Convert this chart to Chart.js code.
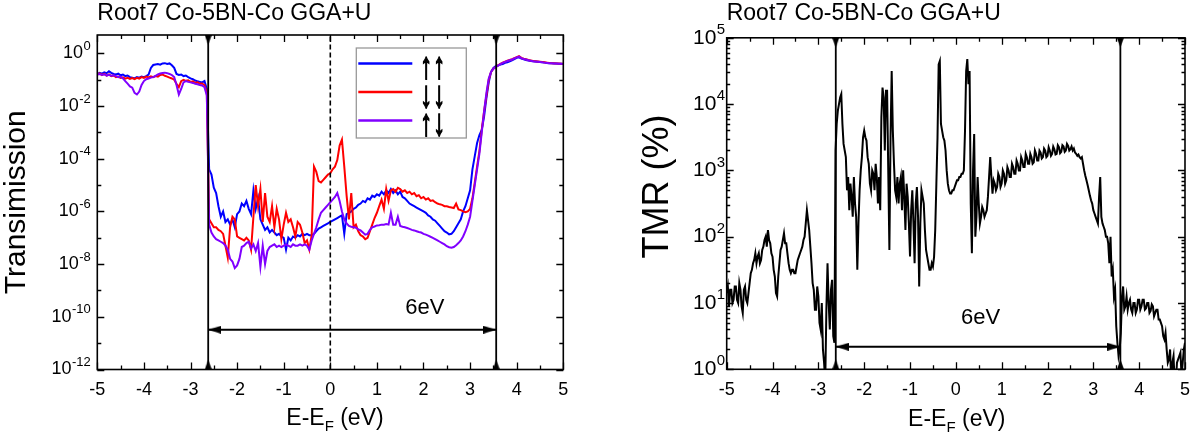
<!DOCTYPE html>
<html>
<head>
<meta charset="utf-8">
<script src="https://cdn.jsdelivr.net/npm/chart.js@4.4.1/dist/chart.umd.min.js"></script>
<style>
  body { margin: 0; background: #fff; width: 1200px; height: 440px; overflow: hidden; display: flex; }
  .panel { position: relative; width: 600px; height: 440px; }
</style>
</head>
<body>
<div class="panel"><canvas id="transChart"></canvas></div>
<div class="panel"><canvas id="tmrChart"></canvas></div>
<script>
// energy grids (eV); the series below hold log10 of the plotted quantity
const energy = [];
for (let i = 0; i <= 200; i++) energy.push(Math.round((-5 + i * 0.05) * 100) / 100);
const tmrEnergy = [];
for (let i = 0; i <= 400; i++) tmrEnergy.push(Math.round((-5 + i * 0.025) * 1000) / 1000);

// transmission, spin up - up (blue)
const upUpLog = [
  -0.78,-0.74,-0.77,-0.72,-0.75,-0.68,-0.74,-0.78,-0.80,-0.77,-0.83,-0.80,-0.86,-0.84,-0.90,-0.92,-0.95,-0.90,-0.92,-0.88,
  -0.90,-0.86,-0.80,-0.55,-0.44,-0.42,-0.40,-0.43,-0.38,-0.37,-0.40,-0.38,-0.45,-0.55,-0.78,-0.82,-0.80,-0.86,-0.84,-0.90,
  -0.95,-0.98,-1.03,-1.06,-1.08,-1.10,-1.05,-1.35,-4.4,-4.6,-5.1,-5.3,-5.8,-6.2,-6.0,-6.4,-6.3,-6.5,-6.3,-6.6,
  -6.1,-6.0,-5.7,-5.8,-5.6,-5.9,-6.1,-5.2,-5.9,-5.5,-6.3,-6.5,-6.7,-6.6,-6.8,-6.7,-6.8,-6.9,-6.85,-6.95,
  -7.0,-7.45,-7.0,-7.1,-6.95,-7.0,-6.9,-6.95,-6.85,-6.9,-6.85,-6.9,-6.9,-6.85,-6.75,-6.65,-6.6,-6.55,-6.5,-6.45,
  -6.4,-6.35,-6.3,-6.25,-6.2,-6.15,-6.85,-6.1,-6.05,-6.0,-5.9,-5.85,-5.75,-5.7,-5.6,-5.65,-5.5,-5.55,-5.4,-5.45,
  -5.35,-5.4,-5.25,-5.35,-5.2,-5.3,-5.15,-5.3,-5.2,-5.35,-5.25,-5.45,-5.5,-5.6,-5.7,-5.75,-5.8,-5.85,-5.9,-5.95,
  -6.0,-6.05,-6.15,-6.2,-6.3,-6.35,-6.45,-6.55,-6.65,-6.75,-6.8,-6.87,-6.85,-6.75,-6.6,-6.45,-6.3,-6.0,-5.8,-5.5,
  -5.2,-4.4,-3.9,-3.4,-3.1,-2.9,-2.4,-1.7,-1.1,-0.7,-0.55,-0.48,-0.46,-0.42,-0.40,-0.36,-0.34,-0.30,-0.26,-0.22,
  -0.17,-0.15,-0.20,-0.22,-0.25,-0.27,-0.29,-0.30,-0.31,-0.32,-0.33,-0.34,-0.35,-0.36,-0.37,-0.37,-0.38,-0.38,-0.39,-0.39,
  -0.40
];
// transmission, spin down - down (red)
const downDownLog = [
  -0.80,-0.76,-0.82,-0.78,-0.84,-0.80,-0.86,-0.84,-0.90,-0.88,-0.93,-0.91,-0.96,-0.93,-0.97,-0.94,-0.98,-0.93,-0.96,-0.90,
  -0.93,-0.88,-0.91,-0.87,-0.90,-0.86,-0.88,-0.82,-0.80,-0.85,-0.88,-0.92,-0.95,-1.00,-1.15,-1.28,-1.05,-1.00,-1.04,-1.02,
  -1.08,-1.06,-1.12,-1.10,-1.15,-1.14,-1.20,-1.50,-6.3,-6.45,-6.6,-6.6,-6.7,-6.75,-6.85,-7.3,-7.75,-6.6,-6.2,-6.3,
  -6.95,-7.0,-7.05,-7.1,-7.0,-7.1,-7.45,-6.2,-5.0,-5.8,-5.15,-6.4,-5.3,-6.2,-6.4,-5.8,-6.6,-5.9,-6.3,-7.05,
  -6.5,-6.05,-6.4,-6.3,-6.6,-6.95,-6.4,-6.5,-6.8,-7.2,-7.1,-7.45,-6.9,-4.3,-4.5,-4.85,-4.9,-4.8,-4.7,-4.6,
  -4.55,-4.4,-4.3,-4.05,-3.5,-3.27,-4.3,-5.4,-6.3,-5.3,-6.6,-6.5,-6.75,-6.9,-6.95,-7.05,-7.0,-6.75,-6.5,-6.25,
  -6.05,-5.8,-5.55,-5.9,-5.15,-5.6,-5.2,-5.15,-5.25,-5.1,-5.15,-5.25,-5.2,-5.3,-5.25,-5.35,-5.3,-5.42,-5.38,-5.5,
  -5.45,-5.55,-5.5,-5.6,-5.58,-5.65,-5.7,-5.73,-5.75,-5.8,-5.8,-5.83,-5.85,-5.87,-5.7,-5.92,-5.95,-6.0,-6.03,-6.0,
  -5.9,-5.5,-4.9,-4.3,-3.7,-2.9,-2.2,-1.6,-1.0,-0.7,-0.58,-0.52,-0.45,-0.40,-0.35,-0.31,-0.28,-0.25,-0.22,-0.18,
  -0.14,-0.10,-0.17,-0.20,-0.22,-0.25,-0.27,-0.29,-0.30,-0.31,-0.32,-0.33,-0.34,-0.35,-0.36,-0.37,-0.37,-0.38,-0.38,-0.39,
  -0.39
];
// transmission, spin up - down (purple)
const upDownLog = [
  -0.80,-0.78,-0.82,-0.79,-0.84,-0.81,-0.85,-0.83,-0.86,-0.90,-0.88,-0.95,-1.05,-1.15,-1.25,-1.30,-1.50,-1.56,-1.45,-1.20,
  -1.05,-0.98,-0.95,-0.92,-0.90,-0.85,-0.80,-0.76,-0.74,-0.73,-0.75,-0.78,-0.82,-0.90,-1.20,-1.56,-1.35,-1.10,-1.05,-1.08,
  -1.10,-1.12,-1.15,-1.17,-1.20,-1.22,-1.28,-1.60,-6.5,-6.8,-6.95,-7.05,-7.1,-7.15,-7.2,-7.3,-7.45,-7.8,-7.9,-8.15,
  -8.05,-7.8,-7.35,-7.3,-7.2,-7.15,-7.4,-7.25,-7.5,-7.2,-8.1,-7.3,-8.0,-7.5,-7.35,-7.3,-7.25,-7.35,-7.3,-7.35,
  -7.3,-7.25,-7.3,-7.35,-7.25,-7.3,-7.3,-7.25,-7.3,-7.25,-7.3,-7.45,-7.1,-6.85,-6.6,-6.3,-6.05,-5.95,-5.85,-5.75,
  -5.65,-5.55,-5.45,-5.3,-5.6,-6.0,-6.3,-6.45,-6.55,-6.58,-6.6,-6.62,-6.68,-6.72,-6.8,-6.88,-6.85,-6.7,-6.6,-6.57,
  -6.53,-6.52,-6.5,-6.5,-6.48,-6.5,-6.05,-6.5,-6.5,-6.2,-6.55,-6.58,-6.6,-6.63,-6.66,-6.7,-6.72,-6.75,-6.78,-6.8,
  -6.85,-6.88,-6.92,-6.96,-7.0,-7.05,-7.1,-7.15,-7.2,-7.25,-7.32,-7.36,-7.38,-7.35,-7.28,-7.2,-7.1,-6.95,-6.75,-6.5,
  -6.2,-5.6,-5.0,-4.4,-3.8,-3.0,-2.2,-1.5,-0.95,-0.7,-0.58,-0.52,-0.46,-0.41,-0.36,-0.32,-0.29,-0.26,-0.23,-0.19,
  -0.15,-0.12,-0.18,-0.21,-0.23,-0.26,-0.28,-0.30,-0.31,-0.32,-0.33,-0.34,-0.35,-0.36,-0.37,-0.37,-0.38,-0.38,-0.39,-0.39,
  -0.40
];
// TMR (%), black, on the 0.025 eV grid
const tmrLog = [
  1.15,1.25,0.95,1.2,1.2,1.0,1.05,1.25,1.25,1.05,1.0,1.3,1.2,0.95,0.85,1.2,1.25,1.05,1.0,1.15,
  1.3,1.45,1.5,1.6,1.65,1.75,1.6,1.7,1.75,1.6,1.65,1.8,1.85,1.95,2.0,1.85,2.1,1.95,1.9,1.75,
  1.7,1.5,1.4,1.15,1.1,1.4,1.6,1.8,1.85,1.95,2.05,1.9,1.9,1.75,1.6,1.5,1.45,1.5,1.5,1.45,
  1.45,1.55,1.65,1.7,1.75,1.8,1.85,1.95,2.0,2.2,2.4,2.25,2.1,1.85,1.6,1.3,1.2,0.9,0.9,1.25,
  1.1,0.7,0.6,1.0,0.3,0.1,-0.2,0.9,1.6,1.0,0.6,1.2,1.35,0.5,0.4,3.3,3.7,3.9,4.0,4.1,
  4.15,3.7,3.4,3.3,3.2,2.7,2.9,2.4,2.8,2.6,2.3,2.9,2.5,2.3,1.5,2.2,2.7,3.0,3.2,3.5,
  3.6,3.5,3.45,3.2,3.1,2.8,2.7,3.0,2.95,2.7,3.1,2.9,2.5,2.9,2.4,3.8,4.25,4.1,3.3,4.2,
  4.2,3.0,1.8,3.5,4.5,3.6,3.1,2.7,2.6,2.9,2.5,2.8,2.9,2.4,3.0,2.6,2.1,2.8,2.6,2.2,
  1.7,2.4,2.7,2.2,1.6,2.5,2.75,2.3,1.25,2.2,2.7,2.6,2.5,2.1,1.8,1.7,1.6,1.5,1.5,1.6,
  1.55,1.7,2.1,2.8,3.5,4.6,4.65,3.7,3.6,3.5,3.45,3.3,3.0,2.8,2.7,2.65,2.65,2.7,2.7,2.75,
  2.8,2.85,2.85,2.9,2.9,2.95,2.95,3.0,3.6,4.5,4.68,4.3,4.5,2.5,1.75,3.0,3.55,2.0,2.3,2.9,
  2.5,2.2,2.3,2.45,2.4,2.3,2.35,2.4,2.6,2.9,3.2,2.9,2.65,2.85,2.8,2.7,2.75,2.95,2.9,2.75,
  2.8,3.0,2.95,2.8,2.85,3.05,3.0,2.9,2.9,3.1,3.05,2.95,2.95,3.15,3.1,3.0,3.0,3.2,3.15,3.05,
  3.05,3.25,3.2,3.1,3.1,3.25,3.2,3.1,3.12,3.3,3.25,3.15,3.15,3.3,3.27,3.18,3.2,3.33,3.3,3.2,
  3.22,3.35,3.3,3.22,3.25,3.36,3.32,3.24,3.25,3.38,3.35,3.26,3.28,3.38,3.36,3.28,3.3,3.4,3.37,3.3,
  3.32,3.36,3.3,3.33,3.27,3.25,3.22,3.24,3.2,3.18,3.2,3.1,3.0,2.92,2.85,2.78,2.7,2.62,2.55,2.5,
  2.4,2.35,2.3,2.25,2.2,2.6,2.9,2.3,2.2,2.15,2.1,2.0,2.0,1.9,1.6,2.0,1.4,1.5,1.1,1.2,
  0.65,0.4,0.2,0.3,0.55,1.1,1.25,0.9,0.95,1.1,0.9,1.0,1.05,0.9,0.85,1.0,1.0,0.85,0.9,1.05,
  1.05,0.9,0.95,1.05,1.05,0.9,0.92,1.0,1.0,0.85,0.88,0.98,0.95,0.8,0.85,0.9,0.9,0.75,0.75,0.7,
  0.65,0.5,0.45,0.55,0.3,0.1,0.15,0.3,-0.2,0.1,0.2,-0.2,-0.2,0.1,0.15,0.2,0.25,-0.1,0.1,0.3,
  0.4
];

const seriesNames = ['↑↑', '↓↓', '↑↓'];
const seriesColors = ['#0000ff', '#ff0000', '#8000ff'];

// axes
const eTicks = [-5, -4, -3, -2, -1, 0, 1, 2, 3, 4, 5];
const eMinorTicks = [-4.5, -3.5, -2.5, -1.5, -0.5, 0.5, 1.5, 2.5, 3.5, 4.5];
const transRange = [1e-12, 5];
const transTicks = [1e-12, 1e-10, 1e-8, 1e-6, 1e-4, 1e-2, 1];
const transTickExps = ['-12', '-10', '-8', '-6', '-4', '-2', '0'];
const transMinorTicks = [1e-11, 1e-9, 1e-7, 1e-5, 1e-3, 1e-1];
const tmrRange = [1, 1e5];
const tmrTicks = [1, 10, 100, 1e3, 1e4, 1e5];
const tmrTickExps = ['0', '1', '2', '3', '4', '5'];
const tmrMinorTicks = [];
for (const d of [1, 10, 100, 1e3, 1e4]) for (let m = 2; m <= 9; m++) tmrMinorTicks.push(m * d);

// gap markers
const transEdges = [-2.62, 3.56];
const tmrEdges = [-2.62, 3.59];
const transArrowY = Math.pow(10, -10.49);
const tmrArrowY = Math.pow(10, 0.34);
const transGapLabel = { x: 2.03, y: Math.pow(10, -9.65), text: '6eV' };
const tmrGapLabel = { x: 0.54, y: Math.pow(10, 0.77), text: '6eV' };

const FONT = "'Liberation Sans', Arial, sans-serif";
Chart.defaults.font.family = FONT;
Chart.defaults.color = '#000';

// small black triangles used as point styles
function triangle(w, h, apexAtCenter) {
  const c = document.createElement('canvas');
  c.width = w; c.height = 2 * h;
  const g = c.getContext('2d');
  g.fillStyle = '#000';
  g.beginPath();
  if (apexAtCenter) { g.moveTo(w / 2, h); g.lineTo(w, 2 * h); g.lineTo(0, 2 * h); }
  else { g.moveTo(w / 2, 0); g.lineTo(w, h); g.lineTo(0, h); }
  g.closePath();
  g.fill();
  return c;
}
const edgeMark = triangle(7, 10, false);
const arrowTip = triangle(8, 13, true);

function edgeLine(x, range) {
  return {
    data: [{ x, y: range[1] }, { x, y: range[0] }],
    borderColor: '#000', borderWidth: 1.8,
    pointStyle: edgeMark, pointRadius: 3, pointRotation: [180, 0],
    order: 0
  };
}
function gapArrow(edges, y) {
  return {
    data: [{ x: edges[0], y }, { x: edges[1], y }],
    borderColor: '#000', borderWidth: 1.8,
    pointStyle: arrowTip, pointRadius: 3, pointRotation: [-90, 90],
    order: 0
  };
}

// frame, inward ticks on all four sides, and "10^n" tick labels
const frameTicks = {
  id: 'frameTicks',
  afterDraw(chart, args, o) {
    const { ctx, chartArea: a } = chart;
    const x = chart.scales.x, y = chart.scales.y;
    ctx.save();
    ctx.strokeStyle = '#000';
    ctx.lineWidth = 1.3;
    ctx.beginPath();
    for (const [list, len] of [[eTicks, 7], [eMinorTicks, 4]]) {
      for (const v of list) {
        const px = Math.round(x.getPixelForValue(v)) + 0.5;
        ctx.moveTo(px, a.bottom); ctx.lineTo(px, a.bottom - len);
        ctx.moveTo(px, a.top); ctx.lineTo(px, a.top + len);
      }
    }
    for (const [list, len] of [[o.yMajor, 7], [o.yMinor, o.minorLen]]) {
      for (const v of list) {
        const py = Math.round(y.getPixelForValue(v)) + 0.5;
        ctx.moveTo(a.left, py); ctx.lineTo(a.left + len, py);
        ctx.moveTo(a.right, py); ctx.lineTo(a.right - len, py);
      }
    }
    ctx.stroke();
    ctx.lineWidth = 1.6;
    ctx.strokeRect(a.left, a.top, a.width, a.height);

    // y tick labels as 10 with a raised exponent
    ctx.fillStyle = '#000';
    ctx.textAlign = 'left';
    ctx.textBaseline = 'middle';
    const L = o.labels;
    o.yMajor.forEach((v, i) => {
      const py = y.getPixelForValue(v);
      ctx.font = L.base + 'px ' + FONT;
      const wb = ctx.measureText('10').width;
      ctx.font = L.sup + 'px ' + FONT;
      const we = ctx.measureText(L.exps[i]).width;
      const x0 = a.left - L.gap - we - wb;
      ctx.font = L.base + 'px ' + FONT;
      ctx.fillText('10', x0, py);
      ctx.font = L.sup + 'px ' + FONT;
      ctx.fillText(L.exps[i], x0 + wb + 0.5, py - L.raise);
    });
    ctx.restore();
  }
};

// gap label, axis titles and the framed legend
const figureText = {
  id: 'figureText',
  afterDraw(chart, args, o) {
    const { ctx, chartArea: a } = chart;
    const x = chart.scales.x, y = chart.scales.y;
    ctx.save();
    ctx.fillStyle = '#000';
    ctx.font = '22px ' + FONT;
    ctx.textAlign = 'center';
    ctx.textBaseline = 'middle';
    ctx.fillText(o.gap.text, x.getPixelForValue(o.gap.x), y.getPixelForValue(o.gap.y));

    // y title, rotated
    ctx.save();
    ctx.translate(o.yTitle.cx, (a.top + a.bottom) / 2 + o.yTitle.dy);
    ctx.rotate(-Math.PI / 2);
    ctx.font = o.yTitle.size + 'px ' + FONT;
    ctx.fillText(o.yTitle.text, 0, 0);
    ctx.restore();

    // x title E-E_F (eV)
    const big = '23px ' + FONT, small = '15px ' + FONT;
    ctx.textAlign = 'left';
    ctx.textBaseline = 'alphabetic';
    ctx.font = big;
    const w1 = ctx.measureText('E-E').width, w3 = ctx.measureText(' (eV)').width;
    ctx.font = small;
    const w2 = ctx.measureText('F').width;
    let tx = x.getPixelForValue(o.xTitleAt) - (w1 + w2 + w3) / 2;
    const by = o.xTitleBase;
    ctx.font = big; ctx.fillText('E-E', tx, by); tx += w1;
    ctx.font = small; ctx.fillText('F', tx, by + 6); tx += w2;
    ctx.font = big; ctx.fillText(' (eV)', tx, by);

    if (o.legend) {
      const lx = a.left + 259, ly = a.top + 13;
      ctx.strokeStyle = '#999';
      ctx.lineWidth = 1.3;
      ctx.strokeRect(lx, ly, 110, 90);
      seriesNames.forEach((name, i) => {
        const ry = ly + 15.5 + i * 28.5;
        ctx.strokeStyle = seriesColors[i];
        ctx.lineWidth = 2.5;
        ctx.beginPath(); ctx.moveTo(lx + 2, ry); ctx.lineTo(lx + 56, ry); ctx.stroke();
        ctx.font = 'bold 34px ' + FONT;
        ctx.textAlign = 'center';
        ctx.textBaseline = 'middle';
        ctx.strokeStyle = '#000';
        ctx.lineWidth = 1.4;
        [70, 83].forEach((dx, k) => {
          ctx.save();
          ctx.translate(lx + dx, ry + 4.5);
          ctx.scale(0.7, 1.1);
          ctx.fillText(name[k], 0, 0);
          ctx.strokeText(name[k], 0, 0);
          ctx.restore();
        });
      });
    }
    ctx.restore();
  }
};

function xScale(height) {
  return {
    type: 'linear', min: -5, max: 5,
    grid: { display: false, drawTicks: false },
    border: { display: false },
    afterBuildTicks: s => { s.ticks = eTicks.map(v => ({ value: v })); },
    afterFit: s => { s.height = height; },
    ticks: { font: { size: 18 }, padding: 10, maxRotation: 0, callback: v => String(v) }
  };
}
function yScale(range, ticks, width) {
  return {
    type: 'logarithmic', min: range[0], max: range[1],
    grid: { display: false, drawTicks: false },
    border: { display: false },
    afterBuildTicks: s => { s.ticks = ticks.map(v => ({ value: v })); },
    afterFit: s => { s.width = width; },
    ticks: { display: false }
  };
}

// left panel: transmission
new Chart(document.getElementById('transChart'), {
  type: 'line',
  data: {
    datasets: [
      { label: seriesNames[0], data: energy.map((e, i) => ({ x: e, y: Math.pow(10, upUpLog[i]) })),
        borderColor: seriesColors[0], borderWidth: 2, pointRadius: 0, order: 3 },
      { label: seriesNames[1], data: energy.map((e, i) => ({ x: e, y: Math.pow(10, downDownLog[i]) })),
        borderColor: seriesColors[1], borderWidth: 2, pointRadius: 0, order: 2 },
      { label: seriesNames[2], data: energy.map((e, i) => ({ x: e, y: Math.pow(10, upDownLog[i]) })),
        borderColor: seriesColors[2], borderWidth: 2, pointRadius: 0, order: 1 },
      edgeLine(transEdges[0], transRange),
      edgeLine(transEdges[1], transRange),
      { data: [{ x: 0, y: transRange[0] }, { x: 0, y: transRange[1] }],
        borderColor: '#000', borderWidth: 1.6, borderDash: [5, 3], pointRadius: 0, order: 0 },
      gapArrow(transEdges, transArrowY)
    ]
  },
  options: {
    responsive: true, maintainAspectRatio: false, animation: false, events: [],
    devicePixelRatio: 1,
    layout: { padding: { left: 0, right: 36.7, top: 0, bottom: 0 } },
    scales: { x: xScale(70.5), y: yScale(transRange, transTicks, 97.3) },
    plugins: {
      legend: { display: false },
      tooltip: { enabled: false },
      title: { display: true, text: 'Root7 Co-5BN-Co GGA+U', align: 'start', fullSize: false,
        font: { size: 23, weight: 'normal', lineHeight: 1.2 }, padding: { top: 0, bottom: 7.4 } },
      frameTicks: { yMajor: transTicks, yMinor: transMinorTicks, minorLen: 4,
        labels: { exps: transTickExps, base: 18, sup: 13, raise: 7, gap: 7 } },
      figureText: { gap: transGapLabel, xTitleAt: 0.1, xTitleBase: 425, legend: true,
        yTitle: { text: 'Transimission', size: 30, cx: 17, dy: 0 } }
    }
  },
  plugins: [frameTicks, figureText]
});

// right panel: TMR
new Chart(document.getElementById('tmrChart'), {
  type: 'line',
  data: {
    datasets: [
      { label: 'TMR', data: tmrEnergy.map((e, i) => ({ x: e, y: Math.pow(10, tmrLog[i]) })),
        borderColor: '#000', borderWidth: 2, pointRadius: 0, order: 1 },
      edgeLine(tmrEdges[0], tmrRange),
      edgeLine(tmrEdges[1], tmrRange),
      gapArrow(tmrEdges, tmrArrowY)
    ]
  },
  options: {
    responsive: true, maintainAspectRatio: false, animation: false, events: [],
    devicePixelRatio: 1,
    layout: { padding: { left: 0, right: 10, top: 0, bottom: 0 } },
    scales: { x: xScale(70.7), y: yScale(tmrRange, tmrTicks, 126.7) },
    plugins: {
      legend: { display: false },
      tooltip: { enabled: false },
      title: { display: true, text: 'Root7 Co-5BN-Co GGA+U', align: 'start', fullSize: false,
        font: { size: 23, weight: 'normal', lineHeight: 1.2 }, padding: { top: 0, bottom: 10.2 } },
      frameTicks: { yMajor: tmrTicks, yMinor: tmrMinorTicks, minorLen: 3.5,
        labels: { exps: tmrTickExps, base: 21, sup: 15, raise: 8, gap: 2 } },
      figureText: { gap: tmrGapLabel, xTitleAt: 0.02, xTitleBase: 426, legend: false,
        yTitle: { text: 'TMR (%)', size: 36, cx: 58.5, dy: -17 } }
    }
  },
  plugins: [frameTicks, figureText]
});
</script>
</body>
</html>
